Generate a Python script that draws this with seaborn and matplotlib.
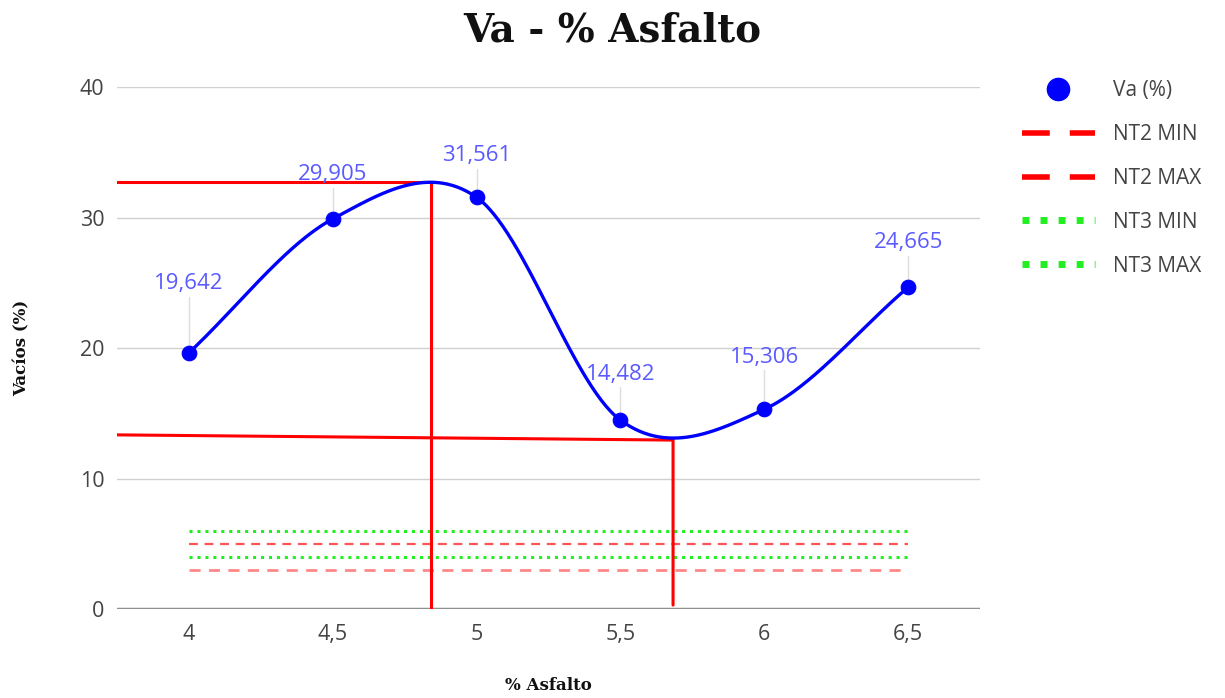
import numpy as np
import pandas as pd
import matplotlib
matplotlib.use("Agg")
import matplotlib.pyplot as plt
import seaborn as sns
from matplotlib.lines import Line2D

# ---- data ----
asfalto = [4.0, 4.5, 5.0, 5.5, 6.0, 6.5]
tick_labels = ["4", "4,5", "5", "5,5", "6", "6,5"]
va = [19.642, 29.905, 31.561, 14.482, 15.306, 24.665]
va_labels = ["19,642", "29,905", "31,561", "14,482", "15,306", "24,665"]
nt2_min = [3, 3]
nt2_max = [5, 5]
nt3_min = [4, 4]
nt3_max = [6, 6]
limit_x = [4.0, 6.5]
# red construction lines (optimum readings)
opt1_x = [3.75, 4.84, 4.84]
opt1_y = [32.7, 32.7, 0.0]
opt2_x = [3.75, 5.683, 5.683]
opt2_y = [13.35, 12.95, 0.3]

# label placement (style only)
label_offset = [5.3, 3.4, 3.2, 3.5, 4.0, 3.4]

sns.set_theme(style="white")
plt.rcParams['font.family'] = ['Open Sans', 'DejaVu Sans']

fig = plt.figure(figsize=(12.25, 6.98), dpi=100)
ax = fig.add_axes([0.0955, 0.1275, 0.7045, 0.7475])


def smooth(xs, ys, n=60):
    xs = np.asarray(xs, float)
    ys = np.asarray(ys, float)
    m = np.zeros_like(ys)
    for i in range(len(xs)):
        if i == 0:
            m[i] = (ys[1] - ys[0]) / (xs[1] - xs[0])
        elif i == len(xs) - 1:
            m[i] = (ys[-1] - ys[-2]) / (xs[-1] - xs[-2])
        else:
            m[i] = (ys[i + 1] - ys[i - 1]) / (xs[i + 1] - xs[i - 1])
    outx, outy = [], []
    for i in range(len(xs) - 1):
        h = xs[i + 1] - xs[i]
        t = np.linspace(0, 1, n, endpoint=(i == len(xs) - 2))
        h00 = 2 * t**3 - 3 * t**2 + 1
        h10 = t**3 - 2 * t**2 + t
        h01 = -2 * t**3 + 3 * t**2
        h11 = t**3 - t**2
        outx.extend(xs[i] + t * h)
        outy.extend(h00 * ys[i] + h10 * h * m[i] + h01 * ys[i + 1] + h11 * h * m[i + 1])
    return np.array(outx), np.array(outy)


# grid
for g in [10, 20, 30, 40]:
    ax.axhline(g, color="#d0d0d0", lw=1.0, zorder=0)
ax.axhline(0, color="#909090", lw=2.5, zorder=1)

# limit lines
sns.lineplot(x=limit_x, y=nt3_max, ax=ax, color="#22ee22", lw=2.2, linestyle=(0, (1, 1.6)), zorder=2)
sns.lineplot(x=limit_x, y=nt2_max, ax=ax, color="#ff5555", lw=1.6, linestyle=(0, (4, 3)), zorder=2)
sns.lineplot(x=limit_x, y=nt3_min, ax=ax, color="#22ee22", lw=2.2, linestyle=(0, (1, 1.6)), zorder=2)
sns.lineplot(x=limit_x, y=nt2_min, ax=ax, color="#ff8888", lw=2.0, linestyle=(0, (4, 3)), zorder=2)

# leader lines for labels
for x, y, off in zip(asfalto, va, label_offset):
    ax.plot([x, x], [y, y + off - 1.0], color="#dddddd", lw=1.0, zorder=2)

# smooth curve
sx, sy = smooth(asfalto, va)
sns.lineplot(x=sx, y=sy, ax=ax, color="#0000ff", lw=2.4, sort=False, zorder=4)
sns.scatterplot(x=asfalto, y=va, ax=ax, color="#0000ff", s=110, edgecolor="#0000ff", zorder=5)

for x, y, lab, off in zip(asfalto, va, va_labels, label_offset):
    ax.text(x, y + off, lab, ha="center", va="center", color="#5a5aff", fontsize=16, zorder=6)

# red construction lines
ax.plot(opt1_x, opt1_y, color="#ff0000", lw=2.2, zorder=3, solid_joinstyle="miter")
ax.plot(opt2_x, opt2_y, color="#ff0000", lw=2.2, zorder=3, solid_joinstyle="miter")

ax.set_xlim(3.75, 6.75)
ax.set_ylim(0, 40)
ax.set_xticks(asfalto)
ax.set_xticklabels(tick_labels)
ax.set_yticks([0, 10, 20, 30, 40])
ax.tick_params(axis="both", labelsize=15.5, labelcolor="#444444", length=0)
ax.tick_params(axis="x", pad=11)
ax.tick_params(axis="y", pad=9)
for s in ax.spines.values():
    s.set_visible(False)

ax.set_xlabel("% Asfalto", family="DejaVu Serif", fontweight="bold", fontsize=12, va="center", color="#111111")
ax.xaxis.set_label_coords(0.5, -0.1475)
ax.set_ylabel("Vacíos (%)", family="DejaVu Serif", fontweight="bold", fontsize=12, va="center", color="#111111")
ax.yaxis.set_label_coords(-0.11, 0.5)
fig.text(0.5, 0.956, "Va - % Asfalto", ha="center", va="center", family="DejaVu Serif",
         fontweight="bold", fontsize=28, color="#111111")

handles = [
    Line2D([], [], marker="o", color="#0000ff", linestyle="none", markersize=16),
    Line2D([], [], color="#ff0000", lw=4, linestyle=(0, (5, 3.6))),
    Line2D([], [], color="#ff0000", lw=4, linestyle=(0, (5, 3.6))),
    Line2D([], [], color="#22ee22", lw=5, linestyle=(0, (1.0, 1.6))),
    Line2D([], [], color="#22ee22", lw=5, linestyle=(0, (1.0, 1.6))),
]
labels = ["Va (%)", "NT2 MIN", "NT2 MAX", "NT3 MIN", "NT3 MAX"]
fig.legend(handles, labels, loc="upper left", bbox_to_anchor=(1022 / 1225, 1 - 80 / 698), frameon=False,
           fontsize=15, labelspacing=1.1, handlelength=3.5, handletextpad=0.85,
           borderpad=0, borderaxespad=0, labelcolor="#444444")

fig.savefig("out.png", dpi=100)
